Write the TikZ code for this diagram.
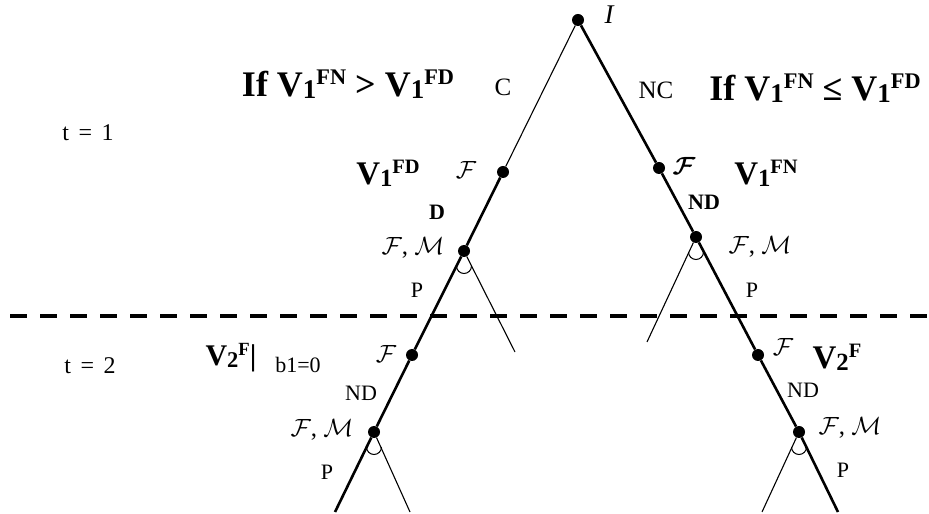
\documentclass[tikz,border=0pt]{standalone}
\usepackage{amsmath,amssymb}
\usepackage{fontspec}
\setmainfont{Liberation Serif}
\usepackage{graphicx}
\usepackage{tikz}
\usetikzlibrary{calc}
\newcommand{\lw}[1]{\raisebox{-0.06em}{\scalebox{0.75}{#1}}}
\newcommand{\up}[1]{\raisebox{0.33em}{\scalebox{0.62}{#1}}}

\begin{document}
\begin{tikzpicture}[x=1pt,y=1pt,
    dot/.style={circle, fill=black, inner sep=0pt, minimum size=12pt},
    thinbr/.style={line width=1.1pt},
    thickbr/.style={line width=2.6pt},
    lbl/.style={font=\fontsize{22}{24}\selectfont, inner sep=0pt},
    blbl/.style={font=\fontsize{33}{36}\selectfont\bfseries, inner sep=0pt},
    cal/.style={font=\fontsize{25}{28}\selectfont, inner sep=0pt}]
  \useasboundingbox (0,0) rectangle (929,514);

  % period divider
  \coordinate (dl) at (10,198);
  \coordinate (dr) at (929,198);
  \draw[line width=4.5pt, dash pattern=on 17pt off 13pt] (dl) -- (dr);

  % decision nodes
  \node[dot] (root) at (578,494) {};
  \node[dot] (fl1)  at (503,342) {};
  \node[dot] (fml1) at (464,263) {};
  \node[dot] (fl2)  at (412,159) {};
  \node[dot] (fml2) at (374,82)  {};
  \node[dot] (fr1)  at (659,346) {};
  \node[dot] (fmr1) at (696,277) {};
  \node[dot] (fr2)  at (758,159) {};
  \node[dot] (fmr2) at (799,82)  {};

  % loose ends
  \coordinate (endl) at (335,2);
  \coordinate (brl1) at (515,162);
  \coordinate (brl2) at (410,2);
  \coordinate (endr) at (838,2);
  \coordinate (brr1) at (647,172);
  \coordinate (brr2) at (762,2);

  % left path (C, then D)
  \draw[thinbr]  (root) -- (fl1);
  \draw[thickbr] (fl1) -- (fml1) -- (fl2) -- (fml2) -- (endl);
  \draw[thinbr]  (fml1) -- (brl1);
  \draw[thinbr]  (fml2) -- (brl2);

  % right path (NC, then ND)
  \draw[thickbr] (root) -- (fr1) -- (fmr1) -- (fr2) -- (fmr2) -- (endr);
  \draw[thinbr]  (fmr1) -- (brr1);
  \draw[thinbr]  (fmr2) -- (brr2);

  % simultaneous-move arcs
  \foreach \n in {fml1,fml2,fmr1,fmr2}
    \draw[line width=1pt] ($(\n)+(-7.5,-15)$) arc[start angle=180, end angle=360, radius=7.5];

  % top labels
  \node[lbl, font=\fontsize{27}{30}\selectfont\itshape] (ilbl) at (609,499) {I};
  \node[blbl, font=\fontsize{36}{40}\selectfont\bfseries] (condl) at (348,430)
    {If V\lw{1}\up{FN} > V\lw{1}\up{FD}};
  \node[blbl, font=\fontsize{36}{40}\selectfont\bfseries] (condr) at (815,426)
    {If V\lw{1}\up{FN} ≤ V\lw{1}\up{FD}};
  \node[lbl, font=\fontsize{25}{28}\selectfont] (clbl)  at (503,427) {C};
  \node[lbl, font=\fontsize{25}{28}\selectfont] (nclbl) at (656,424) {NC};

  % period labels
  \node[lbl, font=\fontsize{24}{26}\selectfont] (t1) at (88,381) {t\hspace{0.15em} = \hspace{0.15em}1};
  \node[lbl, font=\fontsize{24}{26}\selectfont] (t2) at (90,148) {t\hspace{0.15em} = \hspace{0.15em}2};

  % first period
  \node[blbl] (v1fd) at (388,341) {V\lw{1}\up{FD}};
  \node[cal] (fl1lbl) at (466,344) {$\mathcal{F}$};
  \node[cal] (fr1lbl) at (684,348) {$\boldsymbol{\mathcal{F}}$};
  \node[blbl] (v1fn) at (766,341) {V\lw{1}\up{FN}};
  \node[lbl, font=\fontsize{22}{24}\selectfont\bfseries] (dlbl) at (437,302) {D};
  \node[lbl, font=\fontsize{22}{24}\selectfont\bfseries] (ndr1) at (704,312) {ND};
  \node[cal] (fml1lbl) at (413,266) {$\mathcal{F}$, $\mathcal{M}$};
  \node[cal] (fmr1lbl) at (760,267) {$\mathcal{F}$, $\mathcal{M}$};
  \node[lbl] (pl1) at (417,224) {P};
  \node[lbl] (pr1) at (752,224) {P};

  % second period
  \node[cal] (fl2lbl) at (386,160) {$\mathcal{F}$};
  \node[blbl, font=\fontsize{30}{34}\selectfont\bfseries] (v2fb) at (231,156) {V\lw{2}\up{F}|};
  \node[lbl] (b1lbl) at (298,149) {b1=0};
  \node[lbl] (ndl2) at (361,121) {ND};
  \node[cal] (fml2lbl) at (322,84) {$\mathcal{F}$, $\mathcal{M}$};
  \node[lbl] (pl2) at (327,42) {P};
  \node[cal] (fr2lbl) at (783,167) {$\mathcal{F}$};
  \node[blbl] (v2f) at (837,157) {V\lw{2}\up{F}};
  \node[lbl] (ndr2) at (803,124) {ND};
  \node[cal] (fmr2lbl) at (850,86) {$\mathcal{F}$, $\mathcal{M}$};
  \node[lbl] (pr2) at (843,44) {P};
\end{tikzpicture}
\end{document}
